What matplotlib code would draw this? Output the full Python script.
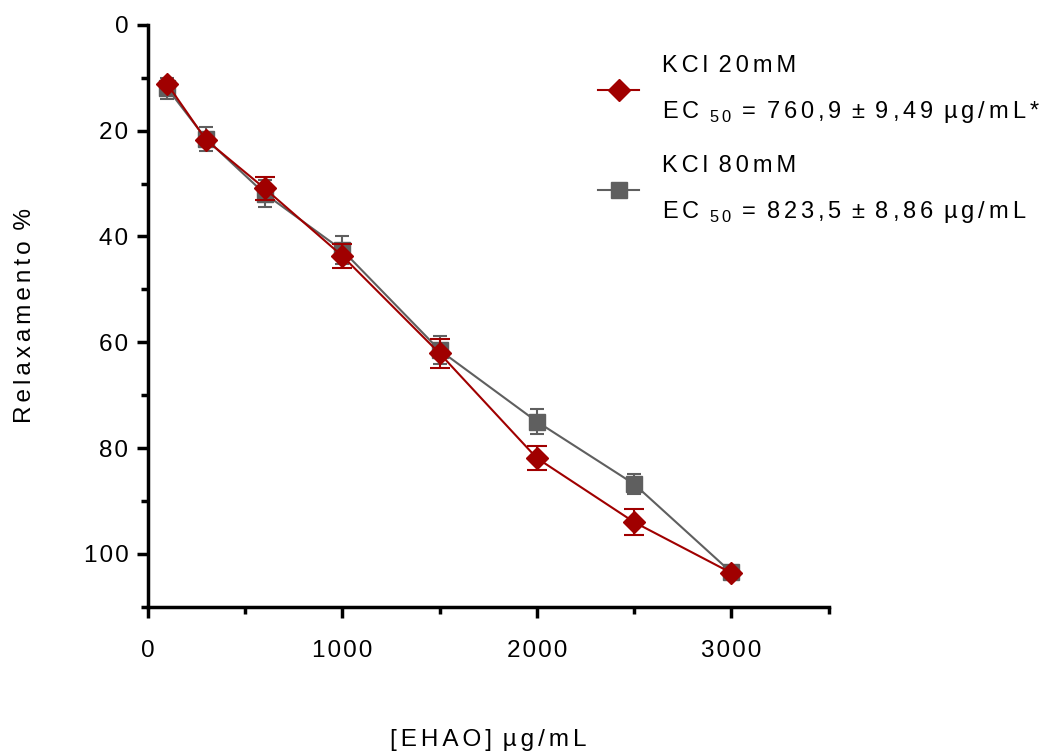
import matplotlib.pyplot as plt
from matplotlib.ticker import MultipleLocator

plt.rcParams['font.family'] = ['Liberation Sans', 'DejaVu Sans']
plt.rcParams['mathtext.fontset'] = 'custom'
plt.rcParams['mathtext.rm'] = 'Liberation Sans'

# concentrations of EHAO (ug/mL)
conc = [100, 300, 600, 1000, 1500, 2000, 2500, 3000]
# relaxation (%) and SEM for each KCl contraction
kcl20 = [11.2, 21.8, 30.9, 43.7, 62.1, 81.9, 94.0, 103.6]
kcl20_err = [0.0, 0.0, 2.2, 2.3, 2.7, 2.3, 2.5, 0.0]
kcl80 = [12.0, 21.6, 31.9, 42.6, 61.5, 75.0, 86.8, 103.5]
kcl80_err = [2.0, 2.2, 2.5, 2.7, 2.6, 2.4, 1.9, 0.8]

xticks = [0, 1000, 2000, 3000]
yticks = [0, 20, 40, 60, 80, 100]

red = '#a00000'
grey = '#5f5f5f'

narrow = '\u200a'
wide = '\u200a\u200a'


def spaced(s, gap=narrow):
    # letter spacing, GraphPad style
    words = [gap.join(w) for w in s.split(' ')]
    return (gap + ' ').join(words)


sub50 = '$_{\\mathregular{5\\,0}}$'
lab20 = (spaced('KCl 20mM', wide) + '\n' + spaced('EC ', wide) + sub50
         + spaced(' = 760,9 ± 9,49 µg/mL*', wide))
lab80 = (spaced('KCl 80mM', wide) + '\n' + spaced('EC ', wide) + sub50
         + spaced(' = 823,5 ± 8,86 µg/mL', wide))

fig, ax = plt.subplots(figsize=(10.41, 7.51), dpi=100)
fig.subplots_adjust(left=0.142, right=0.796, top=0.967, bottom=0.192)

h80 = ax.errorbar(conc, kcl80, yerr=kcl80_err, color=grey, marker='s', ms=11.5,
                  lw=1.5, elinewidth=1.5, capsize=5, capthick=1.5, zorder=2)
h20 = ax.errorbar(conc, kcl20, yerr=kcl20_err, color=red, marker='D', ms=11,
                  lw=1.5, elinewidth=1.5, capsize=7, capthick=1.5, zorder=3)

ax.set_xlim(0, 3500)
ax.set_ylim(110, 0)
ax.set_xticks(xticks)
ax.set_xticklabels([spaced(str(t)) for t in xticks])
ax.set_yticks(yticks)
ax.set_yticklabels([spaced(str(t)) for t in yticks])
ax.xaxis.set_minor_locator(MultipleLocator(500))
ax.yaxis.set_minor_locator(MultipleLocator(10))

for side in ['top', 'right']:
    ax.spines[side].set_visible(False)
for side in ['left', 'bottom']:
    ax.spines[side].set_linewidth(2.5)
ax.tick_params(which='major', length=8, width=2.5, labelsize=17.5)
ax.tick_params(which='minor', length=5, width=2.5)
ax.tick_params(axis='x', pad=16)
ax.tick_params(axis='y', pad=6)

ax.set_xlabel(spaced('[EHAO] µg/mL', wide), fontsize=17.5, labelpad=48)
ax.set_ylabel(spaced('Relaxamento %', wide), fontsize=17.5, labelpad=34)

leg = ax.legend([h20.lines[0], h80.lines[0]], [lab20, lab80], loc='upper left',
                bbox_to_anchor=(0.5545, 0.955), bbox_transform=fig.transFigure,
                frameon=False, fontsize=17, handlelength=1.7, handletextpad=1.0,
                labelspacing=1.28)
for t in leg.get_texts():
    t.set_linespacing(2.15)

fig.savefig('out.png', dpi=100)
